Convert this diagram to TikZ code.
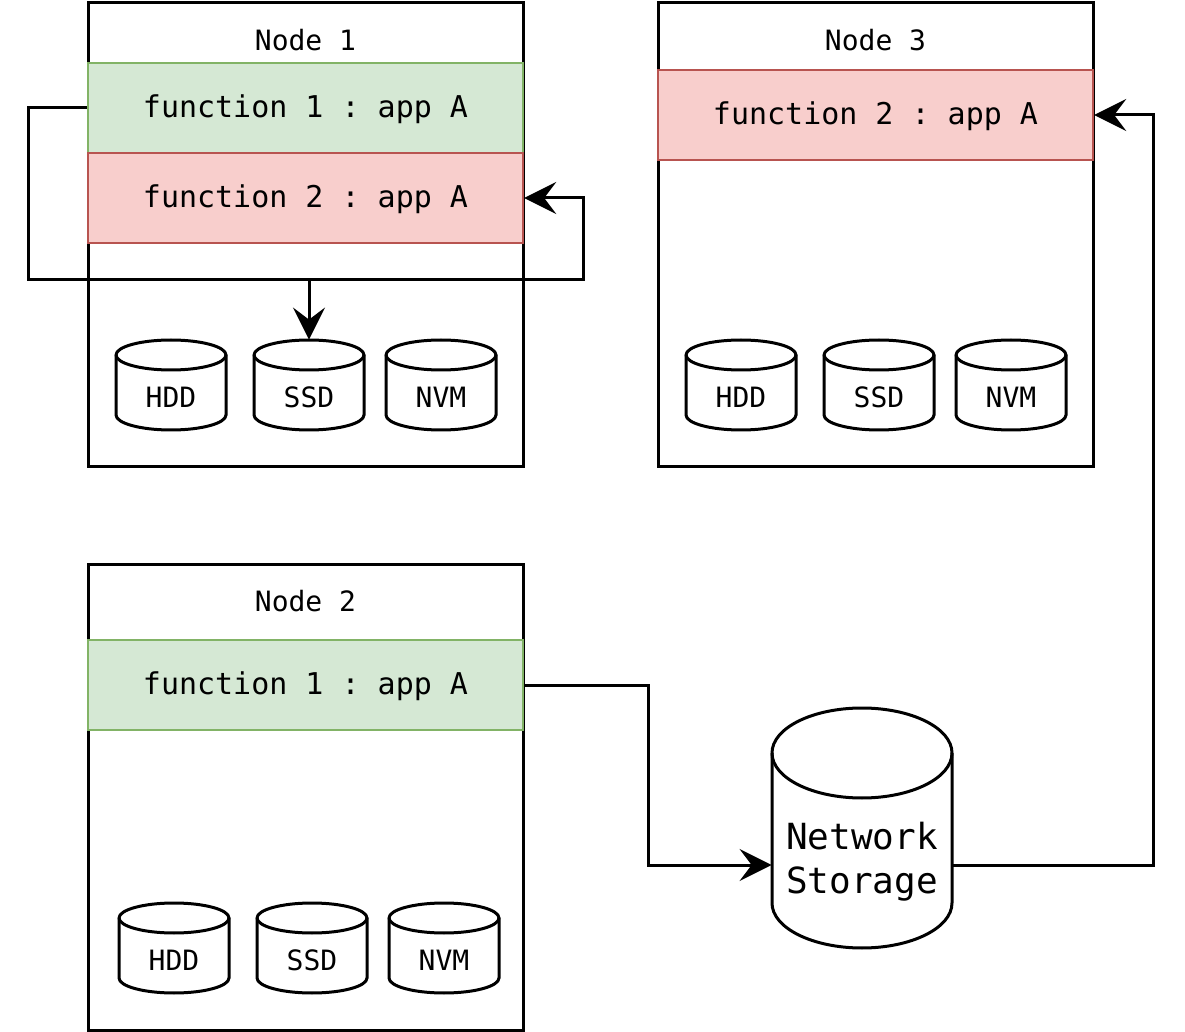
\documentclass[tikz,border=0pt]{standalone}
\usepackage{fontspec}
\setmonofont{DejaVu Sans Mono}
\usetikzlibrary{arrows.meta}
\definecolor{okfill}{HTML}{D5E8D4}
\definecolor{okline}{HTML}{82B366}
\definecolor{badfill}{HTML}{F8CECC}
\definecolor{badline}{HTML}{B85450}
\tikzset{
	box/.style={draw, line width=1.5pt, minimum width=217.5pt, minimum height=232pt, inner sep=0pt},
	func/.style={draw, line width=1.2pt, minimum width=217.5pt, minimum height=45pt, inner sep=0pt, text depth=2pt, font=\ttfamily\fontsize{15}{18}\selectfont},
	okfunc/.style={func, fill=okfill, draw=okline},
	badfunc/.style={func, fill=badfill, draw=badline},
	title/.style={font=\ttfamily\fontsize{14}{17}\selectfont},
	disk/.style={line width=1.5pt, fill=white},
	disktext/.style={align=center, font=\ttfamily\fontsize{14}{22}\selectfont},
	bigdisktext/.style={align=center, font=\ttfamily\fontsize{18}{22}\selectfont},
	conn/.style={line width=1.5pt, -{Stealth[length=16pt, width=16pt, inset=6pt]}},
}
% #1 name, #2 x, #3 top, #4 half width, #5 height, #6 cap, #7 text, #8 text y, #9 text style
\newcommand{\drawdisk}[9]{
	\filldraw[disk] (#2-#4,-#3-#6) -- (#2-#4,-#3-#5+#6) arc[start angle=180, end angle=360, x radius=#4, y radius=#6] -- (#2+#4,-#3-#6) arc[start angle=0, end angle=180, x radius=#4, y radius=#6] -- cycle;
	\draw[disk, fill=none] (#2-#4,-#3-#6) arc[start angle=180, end angle=360, x radius=#4, y radius=#6];
	\node[inner sep=0pt, minimum width=#4pt, minimum height=#5*0.5pt] (#1) at (#2,-#3-#5/2) {};
	\node[#9] at (#2,-#8) {#7};
}
\begin{document}
\begin{tikzpicture}[x=0.5pt, y=0.5pt]
		\useasboundingbox (0,0) rectangle (1185,-1032);
		\node[box] (node1) at (305.5,-235) {};
		\node[box] (node3) at (875.5,-235) {};
		\node[box, minimum height=232.5pt] (node2) at (305.5,-797.5) {};
		\node[title] at (305.5,-40) {Node 1};
		\node[title] at (875.5,-40) {Node 3};
		\node[title] at (305.5,-601) {Node 2};
		\node[okfunc] (fn1a) at (305.5,-108) {function 1 : app A};
		\node[badfunc] (fn2a) at (305.5,-198) {function 2 : app A};
		\node[badfunc] (fn2c) at (875.5,-115) {function 2 : app A};
		\node[okfunc] (fn1b) at (305.5,-685) {function 1 : app A};
		\draw[conn] (fn1a.west) -- (28,-108) |- (583,-280) |- (fn2a.east);
		\drawdisk{hdd1}{171}{340}{55}{90}{15}{HDD}{397}{disktext}
		\drawdisk{ssd1}{309}{340}{55}{90}{15}{SSD}{397}{disktext}
		\drawdisk{nvm1}{441}{340}{55}{90}{15}{NVM}{397}{disktext}
		\drawdisk{hdd3}{741}{340}{55}{90}{15}{HDD}{397}{disktext}
		\drawdisk{ssd3}{879}{340}{55}{90}{15}{SSD}{397}{disktext}
		\drawdisk{nvm3}{1011}{340}{55}{90}{15}{NVM}{397}{disktext}
		\drawdisk{hdd2}{174}{903}{55}{90}{15}{HDD}{960}{disktext}
		\drawdisk{ssd2}{312}{903}{55}{90}{15}{SSD}{960}{disktext}
		\drawdisk{nvm2}{444}{903}{55}{90}{15}{NVM}{960}{disktext}
		\drawdisk{stor}{862}{708}{90}{240}{45}{Network\\Storage}{862}{bigdisktext}
		\draw[conn] (fn1a.west) -- (28,-108) |- (309,-280) -- (ssd1.north);
		\draw[conn] (fn1b.east) -| (648,-865) -- ([yshift=-18.5pt]stor.west);
		\draw[conn] ([yshift=-18.5pt]stor.east) -| (1153,-115) -- (fn2c.east);
	\end{tikzpicture}
\end{document}
